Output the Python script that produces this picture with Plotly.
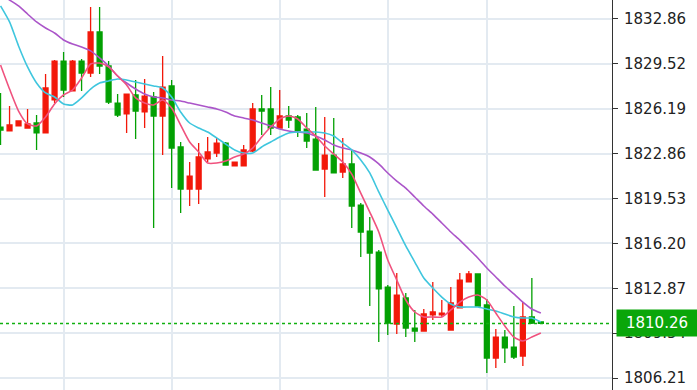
import plotly.graph_objects as go

# ---- data ----
idx = list(range(61))

opens = [1824.84, 1824.55, 1824.92, 1824.77, 1825.14, 1824.40, 1826.85, 1829.74, 1827.52, 1829.74,
         1828.85, 1831.90, 1829.37, 1826.62, 1825.81, 1827.22, 1825.96, 1827.07, 1825.66, 1827.89,
         1823.36, 1820.24, 1820.24, 1822.47, 1822.91, 1823.65, 1821.95, 1821.95, 1823.06, 1826.18,
         1826.18, 1824.77, 1825.66, 1825.59, 1824.69, 1823.95, 1821.72, 1822.76, 1821.50, 1822.10,
         1819.05, 1817.12, 1815.56, 1812.96, 1810.22, 1812.15, 1809.92, 1809.70, 1810.89, 1810.89,
         1809.77, 1811.41, 1813.34, 1813.93, 1811.63, 1807.69, 1809.25, 1808.51, 1807.84, 1810.74,
         1810.37]
highs = [1827.37, 1826.40, 1825.29, 1826.18, 1825.73, 1828.78, 1829.82, 1830.41, 1829.82, 1829.89,
         1833.75, 1833.75, 1829.74, 1827.29, 1827.29, 1828.33, 1828.41, 1827.44, 1830.11, 1828.33,
         1823.73, 1822.24, 1823.65, 1824.10, 1824.03, 1823.73, 1822.24, 1823.51, 1826.62, 1827.22,
         1827.81, 1827.59, 1826.40, 1825.73, 1825.88, 1826.33, 1825.59, 1825.51, 1824.03, 1823.14,
         1819.20, 1818.16, 1815.71, 1813.11, 1814.00, 1812.52, 1811.26, 1811.33, 1813.34, 1812.00,
         1812.96, 1814.00, 1814.15, 1813.93, 1812.07, 1809.85, 1809.77, 1811.55, 1811.85, 1813.63,
         1810.37]
lows = [1823.51, 1824.55, 1824.92, 1824.77, 1823.14, 1824.40, 1826.62, 1827.07, 1827.52, 1827.52,
        1828.55, 1828.78, 1826.55, 1825.59, 1824.40, 1823.95, 1824.77, 1817.35, 1822.76, 1820.31,
        1818.46, 1818.98, 1819.13, 1822.24, 1822.62, 1822.02, 1821.95, 1821.95, 1822.99, 1824.25,
        1824.25, 1824.77, 1824.77, 1824.10, 1823.28, 1821.65, 1819.65, 1821.43, 1821.06, 1817.35,
        1815.19, 1811.55, 1808.88, 1809.40, 1809.48, 1809.25, 1808.88, 1809.70, 1810.51, 1810.74,
        1809.77, 1811.41, 1813.34, 1811.55, 1806.58, 1806.95, 1807.32, 1807.62, 1807.10, 1810.22,
        1810.22]
closes = [1824.62, 1824.99, 1825.29, 1825.07, 1824.40, 1827.74, 1829.74, 1827.59, 1829.74, 1828.85,
          1831.90, 1829.37, 1826.70, 1825.73, 1827.29, 1826.03, 1827.14, 1825.66, 1827.81, 1823.28,
          1820.24, 1821.20, 1822.62, 1822.99, 1823.65, 1822.02, 1822.24, 1823.14, 1826.18, 1826.03,
          1824.77, 1825.66, 1825.36, 1824.55, 1823.80, 1821.65, 1822.76, 1821.43, 1822.10, 1818.98,
          1817.05, 1815.49, 1812.82, 1810.29, 1812.37, 1809.92, 1809.70, 1810.96, 1811.11, 1811.03,
          1811.78, 1813.48, 1813.93, 1811.55, 1807.69, 1809.25, 1808.44, 1807.77, 1810.74, 1810.29,
          1810.26]

ma_pink = [1829.45, 1827.66, 1826.03, 1825.07, 1824.92, 1825.59, 1826.55, 1827.22, 1827.59, 1828.48,
           1829.52, 1829.59, 1829.30, 1828.63, 1827.96, 1827.00, 1826.62, 1826.48, 1826.85, 1826.25,
           1824.99, 1823.73, 1822.99, 1822.17, 1822.17, 1822.32, 1822.62, 1822.84, 1823.28, 1824.10,
           1824.84, 1825.44, 1825.66, 1825.44, 1824.77, 1824.17, 1823.43, 1822.84, 1822.24, 1821.35,
           1819.94, 1818.53, 1817.05, 1814.97, 1813.48, 1812.00, 1811.11, 1810.74, 1810.74, 1810.74,
           1811.26, 1811.85, 1812.22, 1812.37, 1812.00, 1811.03, 1810.07, 1809.25, 1808.96, 1809.25,
           1809.55]
ma_cyan = [1833.83, 1832.64, 1830.86, 1829.30, 1828.11, 1827.37, 1827.07, 1826.55, 1826.48, 1827.00,
           1827.66, 1828.11, 1828.26, 1828.41, 1828.33, 1828.18, 1828.03, 1827.89, 1827.74, 1827.07,
           1825.96, 1825.14, 1824.77, 1824.47, 1824.03, 1823.58, 1823.14, 1822.91, 1822.91, 1823.36,
           1823.73, 1824.10, 1824.40, 1824.47, 1824.47, 1824.47, 1824.40, 1824.17, 1823.65, 1823.14,
           1822.39, 1821.43, 1820.02, 1818.68, 1817.35, 1816.01, 1814.82, 1813.63, 1812.89, 1812.22,
           1811.70, 1811.48, 1811.48, 1811.48, 1811.33, 1811.18, 1810.96, 1810.74, 1810.66, 1810.66,
           1810.37]
ma_purple = [1834.72, 1834.27, 1833.83, 1833.23, 1832.64, 1832.19, 1831.82, 1831.30, 1831.00, 1830.78,
             1830.49, 1829.97, 1829.37, 1828.63, 1828.11, 1827.66, 1827.29, 1827.07, 1827.00, 1826.85,
             1826.77, 1826.62, 1826.48, 1826.33, 1826.18, 1825.96, 1825.66, 1825.51, 1825.36, 1825.14,
             1824.92, 1824.69, 1824.55, 1824.47, 1824.40, 1824.17, 1823.88, 1823.51, 1823.28, 1823.14,
             1822.91, 1822.62, 1822.10, 1821.43, 1820.83, 1820.31, 1819.65, 1818.98, 1818.38, 1817.72,
             1817.05, 1816.45, 1815.79, 1815.12, 1814.38, 1813.71, 1813.04, 1812.45, 1811.85, 1811.33,
             1811.03]

tick_vals = [1832.86, 1829.52, 1826.19, 1822.86, 1819.53, 1816.20, 1812.87, 1809.54, 1806.21]
tick_text = ["1832.86", "1829.52", "1826.19", "1822.86", "1819.53", "1816.20", "1812.87", "1809.54", "1806.21"]
vgrid_idx = [7, 19, 31, 43, 54]
last_price = closes[-1]

RED = "#f2180a"
GREEN = "#03a003"
FONT = "DejaVu Sans"

fig = go.Figure()
fig.add_trace(go.Candlestick(
    x=idx, open=opens, high=highs, low=lows, close=closes,
    increasing=dict(line=dict(color=RED, width=1.3), fillcolor=RED),
    decreasing=dict(line=dict(color=GREEN, width=1.3), fillcolor=GREEN),
    whiskerwidth=0, hoverinfo="skip", showlegend=False,
))
for vals, col in [(ma_purple, "#ab55c9"), (ma_cyan, "#3fc6de"), (ma_pink, "#f0527e")]:
    fig.add_trace(go.Scatter(x=idx, y=vals, mode="lines",
                             line=dict(color=col, width=1.6, shape="spline", smoothing=0.6),
                             hoverinfo="skip", showlegend=False))

fig.add_shape(type="line", xref="paper", yref="y", x0=0, x1=1, y0=last_price, y1=last_price,
              line=dict(color="#10b010", width=1.6, dash="3px,3px"), layer="above")

fig.add_annotation(xref="paper", yref="y", x=1, y=last_price, xanchor="left", yanchor="middle",
                   xshift=4, text=f"{last_price:.2f}", showarrow=False,
                   bgcolor="#0aa60a", font=dict(color="white", size=15, family=FONT),
                   width=76, height=22, borderpad=2, align="center")

fig.update_layout(
    width=697, height=390,
    margin=dict(l=0, r=85, t=0, b=0),
    paper_bgcolor="white", plot_bgcolor="white",
    boxgap=0.22,
    xaxis=dict(range=[-0.06, 67.9], rangeslider=dict(visible=False),
               tickmode="array", tickvals=vgrid_idx, showticklabels=False,
               showgrid=True, gridcolor="#e3eaf1", gridwidth=1.5, zeroline=False,
               showline=False, ticks=""),
    yaxis=dict(range=[1805.32, 1834.27], side="right",
               tickmode="array", tickvals=tick_vals, ticktext=tick_text,
               showgrid=True, gridcolor="#e3eaf1", gridwidth=1.5, zeroline=False,
               showline=True, linecolor="#333333", linewidth=1,
               ticks="outside", ticklen=5, tickcolor="#333333", tickwidth=1,
               ticklabelstandoff=3,
               tickfont=dict(family=FONT, size=15, color="#222222")),
)

fig.write_html("out.html")
